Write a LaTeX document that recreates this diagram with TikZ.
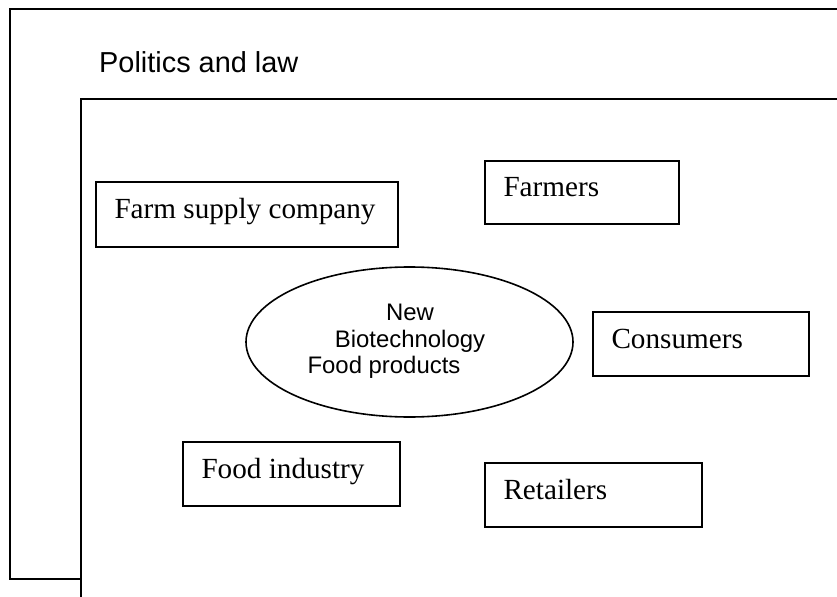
\documentclass[tikz,border=0pt]{standalone}
\usepackage{fontspec}
\setmainfont{Liberation Serif}
\newfontfamily\arialf{Liberation Sans}
\usetikzlibrary{shapes.geometric}
\tikzset{
  frame/.style={line width=2bp, draw=black},
  box/.style={draw=black, line width=2bp, rectangle, inner xsep=18.5bp, inner ysep=0pt,
    text height=17bp, text depth=9bp,
    font=\fontsize{29.3pt}{34pt}\selectfont},
  oval/.style={draw=black, line width=1.6bp, ellipse, inner sep=0pt},
  ovaltext/.style={anchor=base, inner sep=0pt, font=\arialf\fontsize{24pt}{28pt}\selectfont},
  title/.style={anchor=base west, inner sep=0pt, font=\arialf\fontsize{29pt}{34pt}\selectfont}
}
\newcommand{\lbox}[2]{\makebox[#1bp][l]{#2}}
\begin{document}
\begin{tikzpicture}[x=1bp, y=-1bp]
\useasboundingbox (0,0) rectangle (837,597);
\clip (0,0) rectangle (837,597);
% outer frame: Politics and law
\draw[frame] (10,9) rectangle (860,579);
\node[title] (pol) at (99,73) {Politics and law};
% inner frame
\filldraw[frame, fill=white] (81,99) rectangle (860,620);
% boxes
\node[box, minimum width=302bp, minimum height=65bp] (fsc) at (247,214.5) {\lbox{265}{Farm supply company}};
\node[box, minimum width=194bp, minimum height=63bp] (farm) at (582,192.5) {\lbox{157}{Farmers}};
\node[box, minimum width=216bp, minimum height=64bp] (cons) at (701,344) {\lbox{179}{Consumers}};
\node[box, minimum width=217bp, minimum height=64bp] (fi) at (291.5,474) {\lbox{180}{Food industry}};
\node[box, minimum width=217bp, minimum height=64bp] (ret) at (593.5,495) {\lbox{180}{Retailers}};
% ellipse
\node[oval, minimum width=327bp, minimum height=150bp] (bio) at (409.5,342) {};
\node[ovaltext] (l1) at (410,320) {New};
\node[ovaltext] (l2) at (410,347) {Biotechnology};
\node[ovaltext] (l3) at (384,373) {Food products};
\end{tikzpicture}
\end{document}
